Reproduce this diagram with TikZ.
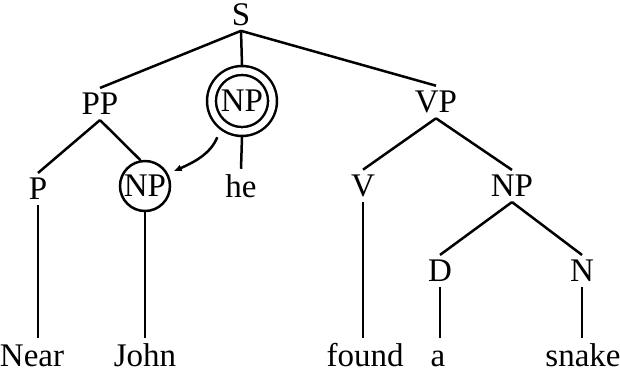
\documentclass[tikz,border=0pt]{standalone}
\usepackage{fontspec}
\setmainfont{Liberation Serif}
\usetikzlibrary{arrows.meta}
\tikzset{>=latex}
\tikzset{
  cat/.style={inner sep=2pt},
  word/.style={anchor=base, text height=11pt, inner sep=2.5pt},
  ring/.style={circle, draw, minimum size=25pt, inner sep=0pt},
  dring/.style={ring, double, double distance=3.2pt, minimum size=30.5pt, outer sep=2.8pt},
}

\begin{document}
\begin{tikzpicture}[x=0.5pt, y=0.5pt, line width=1.25pt, font=\fontsize{16.5}{19}\selectfont]
            \useasboundingbox (0,0) rectangle (620,-371);
            % categories
            \node[cat] (S) at (241,-14.5) {S};
            \node[cat] (PP) at (100,-104) {PP};
            \node[dring] (NPd) at (242,-101) {NP};
            \node[cat] (VP) at (436,-102) {VP};
            \node[cat] (P) at (38,-189) {P};
            \node[ring] (NPs) at (145,-186) {NP};
            \node[word] (he) at (241,-197) {he};
            \node[cat] (V) at (363,-186) {V};
            \node[cat] (NPo) at (512,-186) {NP};
            \node[cat] (D) at (440,-271) {D};
            \node[cat] (N) at (582,-271) {N};
            % words
            \node[word] (near) at (32,-366) {Near};
            \node[word] (john) at (145,-366) {John};
            \node[word] (found) at (365,-366) {found};
            \node[word] (a) at (438,-366) {a};
            \node[word] (snake) at (583,-366) {snake};
            % branches
            \draw (S.south) -- (PP.north);
            \draw (S.south) -- (NPd.north);
            \draw (S.south) -- (VP.north);
            \draw (PP.south) -- (P.north);
            \draw (PP.south) -- (NPs.100);
            \draw (P.south) -- (near.north -| P.south);
            \draw (NPs.south) -- (john.north);
            \draw (NPd.south) -- (he.north);
            \draw (VP.south) -- (V.north);
            \draw (VP.south) -- (NPo.north);
            \draw (V.south) -- (found.north -| V.south);
            \draw (NPo.south) -- (D.north);
            \draw (NPo.south) -- (N.north);
            \draw (D.south) -- (a.north -| D.south);
            \draw (N.south) -- (snake.north -| N.south);
            % coreference
            \draw[-{Latex[length=4pt, width=3.5pt]}, shorten <=4pt, shorten >=3pt] (NPd.233) to[out=248, in=24] (NPs.28);
        \end{tikzpicture}
\end{document}
